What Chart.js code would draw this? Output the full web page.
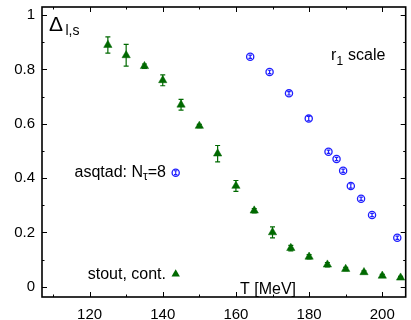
<!DOCTYPE html>
<html><head><meta charset="utf-8">
<script src="https://cdn.jsdelivr.net/npm/chart.js@4"></script>
<style>html,body{margin:0;padding:0;background:#fff}#w{width:411px;height:320px}</style>
</head><body><div id="w"><canvas id="c" width="411" height="320"></canvas></div>
<script>
// stout, continuum extrapolated
const stoutT     = [125, 130, 135, 140, 145, 150, 155, 160, 165, 170, 175, 180, 185, 190, 195, 200, 205];
const stoutDelta = [0.89, 0.852, 0.812, 0.76, 0.67, 0.592, 0.49, 0.371, 0.28, 0.2, 0.142, 0.11, 0.081, 0.065, 0.053, 0.04, 0.033];
const stoutErr   = [0.03, 0.04, 0.008, 0.02, 0.02, 0.006, 0.03, 0.02, 0.008, 0.02, 0.01, 0.008, 0.008, 0.006, 0.005, 0.005, 0.005];
// asqtad, N_tau = 8, r1 scale
const asqtadT     = [163.9, 169.2, 174.5, 179.9, 185.3, 187.5, 189.3, 191.4, 194.2, 197.2, 204.1];
const asqtadDelta = [0.847, 0.791, 0.712, 0.619, 0.497, 0.470, 0.427, 0.371, 0.324, 0.264, 0.180];
const asqtadErr   = [0.006, 0.006, 0.006, 0.008, 0.006, 0.006, 0.006, 0.008, 0.006, 0.006, 0.006];
// axes
const xTicks = [120, 140, 160, 180, 200];
const xMinor = [110, 130, 150, 170, 190];
const yTicks = [0, 0.2, 0.4, 0.6, 0.8, 1];
const yMinor = [0.1, 0.3, 0.5, 0.7, 0.9];

const GREEN = 'rgb(0,105,0)';
const BLUE = 'rgb(30,30,255)';
const FONT = '"Liberation Sans", Arial, Helvetica, sans-serif';

function pts(xs, ys){ return xs.map((x,i)=>({x:x, y:ys[i]})); }

const decor = {
  id: 'decor',
  afterDatasetsDraw(chart){
    const ctx = chart.ctx, ys = chart.scales.y;
    const errs = [stoutErr, asqtadErr];
    const vals = [stoutDelta, asqtadDelta];
    const caps = [2.5, 1.8];
    const cols = [GREEN, BLUE];
    chart.data.datasets.forEach((ds, di)=>{
      const meta = chart.getDatasetMeta(di);
      ctx.save();
      ctx.strokeStyle = cols[di];
      ctx.lineWidth = 1.2;
      meta.data.forEach((p, i)=>{
        const y1 = ys.getPixelForValue(vals[di][i] + errs[di][i]);
        const y2 = ys.getPixelForValue(vals[di][i] - errs[di][i]);
        const c = caps[di];
        ctx.beginPath();
        ctx.moveTo(p.x, y1); ctx.lineTo(p.x, y2);
        ctx.moveTo(p.x - c, y1); ctx.lineTo(p.x + c, y1);
        ctx.moveTo(p.x - c, y2); ctx.lineTo(p.x + c, y2);
        ctx.stroke();
      });
      ctx.restore();
    });
  },
  afterDraw(chart){
    const ctx = chart.ctx, a = chart.chartArea, xs = chart.scales.x, ys = chart.scales.y;
    ctx.save();
    ctx.strokeStyle = '#000';
    ctx.lineWidth = 1;
    const maj = 5, mnr = 2.5;
    ctx.beginPath();
    xTicks.forEach(v=>{ const x = Math.round(xs.getPixelForValue(v))+0.5;
      ctx.moveTo(x, a.bottom); ctx.lineTo(x, a.bottom - maj);
      ctx.moveTo(x, a.top); ctx.lineTo(x, a.top + maj); });
    xMinor.forEach(v=>{ const x = Math.round(xs.getPixelForValue(v))+0.5;
      ctx.moveTo(x, a.bottom); ctx.lineTo(x, a.bottom - mnr);
      ctx.moveTo(x, a.top); ctx.lineTo(x, a.top + mnr); });
    yTicks.forEach(v=>{ const y = Math.round(ys.getPixelForValue(v))+0.5;
      ctx.moveTo(a.left, y); ctx.lineTo(a.left + maj, y);
      ctx.moveTo(a.right, y); ctx.lineTo(a.right - maj, y); });
    yMinor.forEach(v=>{ const y = Math.round(ys.getPixelForValue(v))+0.5;
      ctx.moveTo(a.left, y); ctx.lineTo(a.left + mnr, y);
      ctx.moveTo(a.right, y); ctx.lineTo(a.right - mnr, y); });
    ctx.stroke();
    ctx.lineWidth = 1.6;
    ctx.strokeRect(a.left, a.top, a.right - a.left, a.bottom - a.top);

    // texts
    ctx.fillStyle = '#000';
    ctx.textBaseline = 'alphabetic';
    ctx.textAlign = 'left';
    ctx.font = '21px ' + FONT;
    ctx.fillText('\u0394', 49, 31);
    ctx.font = '14px ' + FONT;
    ctx.fillText('l,s', 65.5, 35);

    ctx.font = '16px ' + FONT;
    ctx.fillText('r', 331, 60);
    ctx.font = '12px ' + FONT;
    ctx.fillText('1', 336.5, 65);
    ctx.font = '16px ' + FONT;
    ctx.fillText('scale', 348, 60);

    ctx.font = '16px ' + FONT;
    ctx.fillText('T [MeV]', 240, 294);

    // legend (right aligned)
    ctx.textAlign = 'right';
    ctx.font = '16px ' + FONT;
    ctx.fillText('=8', 166, 177);
    const w8 = ctx.measureText('=8').width;
    ctx.font = '12px ' + FONT;
    ctx.fillText('\u03c4', 166 - w8, 180);
    const wt = ctx.measureText('\u03c4').width;
    ctx.font = '16px ' + FONT;
    ctx.fillText('asqtad: N', 166 - w8 - wt, 177);
    ctx.fillText('stout, cont.', 166, 279);

    // legend symbols
    ctx.strokeStyle = BLUE; ctx.lineWidth = 1.3;
    ctx.beginPath(); ctx.arc(175.7, 172.7, 3.6, 0, Math.PI*2); ctx.stroke();
    ctx.lineWidth = 1.1;
    ctx.beginPath(); ctx.moveTo(175.7, 170.8); ctx.lineTo(175.7, 174.6);
    ctx.moveTo(174, 170.8); ctx.lineTo(177.4, 170.8);
    ctx.moveTo(174, 174.6); ctx.lineTo(177.4, 174.6); ctx.stroke();
    ctx.fillStyle = GREEN;
    ctx.beginPath();
    ctx.moveTo(175.7, 269.3); ctx.lineTo(179.9, 276.5); ctx.lineTo(171.5, 276.5); ctx.closePath(); ctx.fill();
    ctx.restore();
  }
};

new Chart(document.getElementById('c'), {
  type: 'scatter',
  data: {
    datasets: [
      { label: 'stout, cont.', data: pts(stoutT, stoutDelta), pointStyle: 'triangle',
        pointRadius: 4.8, pointBackgroundColor: GREEN, pointBorderColor: GREEN, pointBorderWidth: 0.5 },
      { label: 'asqtad: N\u03c4=8', data: pts(asqtadT, asqtadDelta), pointStyle: 'circle',
        pointRadius: 3.6, pointBackgroundColor: 'rgba(0,0,0,0)', pointBorderColor: BLUE, pointBorderWidth: 1.3 }
    ]
  },
  options: {
    responsive: false, animation: false, devicePixelRatio: 1,
    layout: { padding: { top: 7, right: 1, left: 0, bottom: 0 } },
    plugins: { legend: { display: false }, tooltip: { enabled: false } },
    scales: {
      x: { type: 'linear', min: 107, max: 206.4,
        grid: { display: false, drawTicks: false }, border: { display: false },
        afterBuildTicks: s => { s.ticks = xTicks.map(v=>({value:v})); },
        afterFit: s => { s.height = 23; s.paddingLeft = 0; s.paddingRight = 0; s.paddingTop = 0; s.paddingBottom = 0; },
        ticks: { padding: 9, color: '#000', font: { family: FONT, size: 15 }, callback: v => String(v) } },
      y: { type: 'linear', min: -0.038, max: 1.03,
        grid: { display: false, drawTicks: false }, border: { display: false },
        afterBuildTicks: s => { s.ticks = yTicks.map(v=>({value:v})); },
        afterFit: s => { s.width = 42; s.paddingTop = 0; s.paddingBottom = 0; s.paddingLeft = 0; s.paddingRight = 0; },
        ticks: { padding: 7, color: '#000', font: { family: FONT, size: 15 }, callback: v => String(v) } }
    }
  },
  plugins: [decor]
});
</script></body></html>
